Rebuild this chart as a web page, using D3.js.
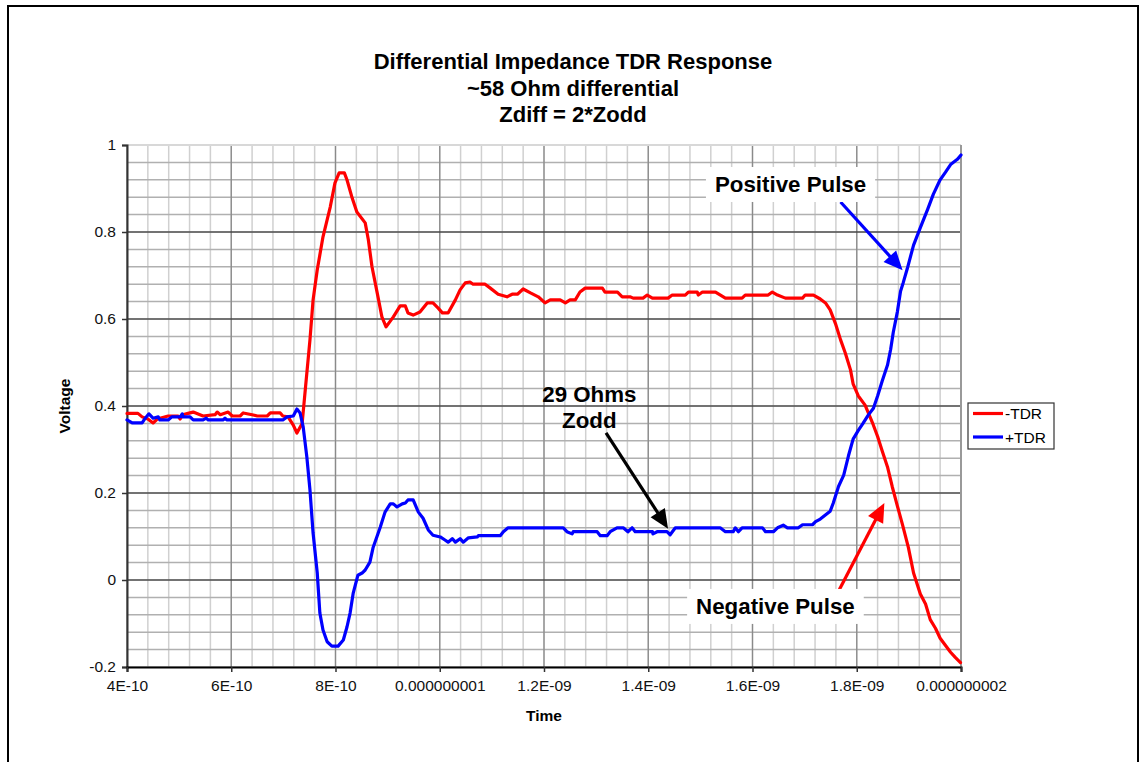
<!DOCTYPE html>
<html><head><meta charset="utf-8">
<script src="https://cdn.jsdelivr.net/npm/d3@7"></script>
<style>
body{margin:0;background:#fff}
text{font-family:Arial,"Liberation Sans",sans-serif}
</style></head>
<body><svg id="c" width="1139" height="762"></svg>
<script>
// ---------- DATA ----------
const titleLines = ["Differential Impedance TDR Response", "~58 Ohm differential", "Zdiff = 2*Zodd"];
const xTitle = "Time";
const yTitle = "Voltage";
const seriesNames = ["-TDR", "+TDR"];
const seriesColors = ["#ff0000", "#0000ff"];
// time in nanoseconds
const xTickValues = [0.4, 0.6, 0.8, 1.0, 1.2, 1.4, 1.6, 1.8, 2.0];
const xTickLabels = ["4E-10", "6E-10", "8E-10", "0.000000001", "1.2E-09", "1.4E-09", "1.6E-09", "1.8E-09", "0.000000002"];
const yTickValues = [-0.2, 0, 0.2, 0.4, 0.6, 0.8, 1];
const yTickLabels = ["-0.2", "0", "0.2", "0.4", "0.6", "0.8", "1"];

const timeRed = [0.400,0.421,0.429,0.440,0.450,0.458,0.463,0.479,0.498,0.502,0.507,0.517,0.527,0.546,0.569,0.573,0.579,0.594,0.602,0.617,0.623,0.640,0.650,0.669,0.675,0.694,0.699,0.709,0.719,0.726,0.736,0.742,0.751,0.757,0.765,0.776,0.790,0.799,0.807,0.817,0.822,0.832,0.841,0.857,0.863,0.870,0.880,0.889,0.897,0.911,0.924,0.934,0.939,0.949,0.962,0.976,0.987,0.997,1.005,1.016,1.030,1.039,1.049,1.058,1.064,1.087,1.097,1.112,1.129,1.139,1.149,1.160,1.174,1.189,1.202,1.212,1.231,1.241,1.250,1.260,1.269,1.279,1.312,1.317,1.341,1.350,1.365,1.371,1.390,1.398,1.408,1.438,1.446,1.471,1.477,1.494,1.496,1.504,1.529,1.548,1.580,1.586,1.630,1.638,1.648,1.663,1.696,1.701,1.717,1.730,1.740,1.749,1.759,1.769,1.778,1.788,1.793,1.803,1.816,1.830,1.840,1.849,1.859,1.868,1.878,1.888,1.899,1.909,1.922,1.932,1.941,1.951,1.960,1.970,1.980,1.989,1.999];
const voltRed = [0.383,0.383,0.375,0.370,0.361,0.370,0.372,0.377,0.377,0.370,0.380,0.383,0.386,0.377,0.380,0.386,0.380,0.386,0.377,0.377,0.384,0.380,0.377,0.377,0.384,0.384,0.377,0.375,0.356,0.338,0.360,0.437,0.552,0.644,0.713,0.789,0.858,0.913,0.936,0.936,0.920,0.878,0.846,0.821,0.782,0.720,0.660,0.605,0.582,0.605,0.630,0.630,0.614,0.609,0.616,0.637,0.637,0.625,0.614,0.614,0.644,0.667,0.683,0.685,0.680,0.680,0.671,0.657,0.651,0.657,0.657,0.669,0.660,0.651,0.637,0.644,0.644,0.637,0.644,0.644,0.662,0.671,0.671,0.662,0.662,0.651,0.651,0.648,0.648,0.655,0.648,0.648,0.655,0.655,0.662,0.662,0.655,0.662,0.662,0.648,0.648,0.655,0.655,0.662,0.655,0.648,0.648,0.655,0.655,0.646,0.637,0.621,0.590,0.552,0.522,0.483,0.451,0.423,0.402,0.362,0.330,0.296,0.260,0.215,0.170,0.126,0.075,0.016,-0.032,-0.055,-0.091,-0.111,-0.134,-0.150,-0.166,-0.178,-0.190];

const timeBlue = [0.400,0.410,0.429,0.435,0.442,0.450,0.460,0.463,0.479,0.486,0.502,0.506,0.507,0.521,0.527,0.546,0.552,0.556,0.584,0.588,0.592,0.699,0.707,0.719,0.726,0.732,0.738,0.745,0.751,0.757,0.765,0.770,0.776,0.784,0.793,0.805,0.815,0.822,0.828,0.834,0.843,0.851,0.857,0.866,0.872,0.886,0.895,0.905,0.911,0.918,0.928,0.934,0.939,0.949,0.959,0.968,0.978,0.987,1.001,1.010,1.016,1.024,1.030,1.039,1.045,1.055,1.072,1.074,1.116,1.122,1.131,1.237,1.244,1.254,1.256,1.302,1.308,1.321,1.327,1.340,1.352,1.361,1.369,1.375,1.408,1.409,1.417,1.436,1.442,1.452,1.538,1.548,1.563,1.567,1.573,1.580,1.619,1.625,1.640,1.648,1.659,1.667,1.688,1.696,1.715,1.721,1.730,1.749,1.755,1.765,1.775,1.784,1.793,1.803,1.812,1.822,1.832,1.840,1.849,1.859,1.865,1.870,1.878,1.884,1.889,1.897,1.909,1.922,1.936,1.947,1.960,1.970,1.980,1.993,2.000];
const voltBlue = [0.368,0.361,0.361,0.372,0.382,0.372,0.375,0.368,0.368,0.375,0.375,0.382,0.375,0.375,0.368,0.368,0.372,0.368,0.368,0.372,0.368,0.368,0.375,0.377,0.393,0.384,0.352,0.283,0.207,0.108,0.016,-0.076,-0.115,-0.142,-0.152,-0.152,-0.138,-0.108,-0.076,-0.030,0.011,0.016,0.023,0.041,0.074,0.122,0.156,0.175,0.175,0.168,0.175,0.177,0.184,0.184,0.156,0.142,0.115,0.103,0.099,0.092,0.087,0.095,0.087,0.095,0.087,0.097,0.099,0.102,0.102,0.111,0.120,0.120,0.111,0.106,0.111,0.111,0.102,0.102,0.111,0.120,0.120,0.111,0.120,0.111,0.111,0.106,0.111,0.111,0.104,0.120,0.120,0.111,0.111,0.120,0.111,0.120,0.120,0.111,0.111,0.120,0.126,0.120,0.120,0.127,0.127,0.134,0.140,0.158,0.177,0.215,0.241,0.285,0.324,0.344,0.360,0.379,0.395,0.423,0.458,0.494,0.530,0.569,0.617,0.664,0.683,0.716,0.770,0.810,0.852,0.887,0.920,0.937,0.955,0.967,0.977];

// annotations (data coordinates: ns, volts)
const noteTexts = [["29 Ohms", "Zodd"], ["Positive Pulse"], ["Negative Pulse"]];
const noteAnchors = [[1.287, 0.409], [1.673, 0.892], [1.644, -0.078]];
const noteBoxed = [false, true, true];
const arrowFrom = [[1.319, 0.338], [1.769, 0.869], [1.765, -0.026]];
const arrowTo = [[1.438, 0.118], [1.888, 0.712], [1.853, 0.177]];
const arrowColors = ["#000000", "#0000ff", "#ff0000"];

// ---------- CHART ----------
const svg = d3.select("#c");
const x = d3.scaleLinear().domain([0.4, 2.0]).range([127, 961]);
const y = d3.scaleLinear().domain([-0.2, 1]).range([667, 145]);

// outer chart border
svg.append("rect").attr("x", 8).attr("y", 6).attr("width", 1130).attr("height", 800)
  .attr("fill", "#fff").attr("stroke", "#000").attr("stroke-width", 2);

// titles
titleLines.forEach((t, i) => {
  svg.append("text").attr("x", 573).attr("y", 69 + i * 26.5).attr("text-anchor", "middle")
    .attr("font-size", 22).attr("font-weight", "bold").attr("fill", "#000").text(t);
});

const g = svg.append("g");
// minor grid
const minorX = d3.range(0, 41).map(i => 0.4 + i * 0.04);
const minorY = d3.range(0, 31).map(i => -0.2 + i * 0.04);
g.selectAll(".mx").data(minorX).join("line")
  .attr("x1", d => x(d)).attr("x2", d => x(d)).attr("y1", y(1)).attr("y2", y(-0.2))
  .attr("stroke", "#d0d0d0").attr("stroke-width", 1.5);
g.selectAll(".my").data(minorY).join("line")
  .attr("x1", x(0.4)).attr("x2", x(2.0)).attr("y1", d => y(d)).attr("y2", d => y(d))
  .attr("stroke", "#b0b0b0").attr("stroke-width", 1.5);
// major grid
g.selectAll(".Mx").data(xTickValues).join("line")
  .attr("x1", d => x(d)).attr("x2", d => x(d)).attr("y1", y(1)).attr("y2", y(-0.2))
  .attr("stroke", "#8a8a8a").attr("stroke-width", 1.3);
g.selectAll(".My").data(yTickValues.slice(1, -1)).join("line")
  .attr("x1", x(0.4)).attr("x2", x(2.0)).attr("y1", d => y(d)).attr("y2", d => y(d))
  .attr("stroke", "#222").attr("stroke-width", 1.2);
g.append("line").attr("x1", x(0.4)).attr("x2", x(2.0)).attr("y1", y(1)).attr("y2", y(1))
  .attr("stroke", "#d8d8d8").attr("stroke-width", 2);
g.append("line").attr("x1", x(2.0)).attr("x2", x(2.0)).attr("y1", y(1)).attr("y2", y(-0.2))
  .attr("stroke", "#999").attr("stroke-width", 2);

// axes
const yAxis = d3.axisLeft(y).tickValues(yTickValues).tickFormat((d, i) => yTickLabels[i]).tickSize(5).tickPadding(6);
const xAxis = d3.axisBottom(x).tickValues(xTickValues).tickFormat((d, i) => xTickLabels[i]).tickSize(5).tickPadding(8);
const ya = svg.append("g").attr("transform", `translate(${x(0.4)},0)`).call(yAxis);
const xa = svg.append("g").attr("transform", `translate(0,${y(-0.2)})`).call(xAxis);
[ya, xa].forEach(a => {
  a.select(".domain").attr("stroke", "#333").attr("stroke-width", 2);
  a.selectAll(".tick line").attr("stroke", "#333").attr("stroke-width", 1.5);
  a.selectAll(".tick text").attr("font-size", 15.5).attr("fill", "#111")
    .attr("font-family", "Arial, 'Liberation Sans', sans-serif");
});
xa.select(".domain").attr("stroke", "#000");

// axis titles
svg.append("text").attr("x", x(1.2)).attr("y", 721).attr("text-anchor", "middle")
  .attr("font-size", 15.5).attr("font-weight", "bold").text(xTitle);
svg.append("text").attr("transform", `translate(70,${y(0.4)}) rotate(-90)`).attr("text-anchor", "middle")
  .attr("font-size", 15.5).attr("font-weight", "bold").text(yTitle);

// series lines
const line = d3.line().x(d => x(d[0])).y(d => y(d[1]));
const seriesData = [d3.zip(timeRed, voltRed), d3.zip(timeBlue, voltBlue)];
seriesData.forEach((s, i) => {
  svg.append("path").datum(s).attr("d", line).attr("fill", "none")
    .attr("stroke", seriesColors[i]).attr("stroke-width", 3.2)
    .attr("stroke-linejoin", "round").attr("stroke-linecap", "round");
});

// arrows
function drawArrow(from, to, color) {
  const x1 = x(from[0]), y1 = y(from[1]), x2 = x(to[0]), y2 = y(to[1]);
  const dx = x2 - x1, dy = y2 - y1, L = Math.hypot(dx, dy);
  const ux = dx / L, uy = dy / L, hl = 19, hw = 8.5;
  const bx = x2 - ux * hl, by = y2 - uy * hl;
  svg.append("line").attr("x1", x1).attr("y1", y1).attr("x2", bx + ux * 2).attr("y2", by + uy * 2)
    .attr("stroke", color).attr("stroke-width", 3.2);
  svg.append("path").attr("d", `M${x2},${y2}L${bx - uy * hw},${by + ux * hw}L${bx + uy * hw},${by - ux * hw}Z`)
    .attr("fill", color);
}
arrowFrom.forEach((f, i) => drawArrow(f, arrowTo[i], arrowColors[i]));

// annotation texts
noteTexts.forEach((lines, i) => {
  const gx = svg.append("g");
  const cx = x(noteAnchors[i][0]), cy = y(noteAnchors[i][1]);
  const bgRect = gx.append("rect").attr("fill", "#fff");
  const txts = lines.map((t, j) => gx.append("text").attr("x", cx).attr("y", cy + j * 26)
    .attr("text-anchor", "middle").attr("font-size", 22.3).attr("font-weight", "bold").attr("fill", "#000").text(t));
  if (noteBoxed[i]) {
    const bb = txts[0].node().getBBox();
    bgRect.attr("x", bb.x - 9).attr("y", bb.y - 5).attr("width", bb.width + 18).attr("height", bb.height + 10);
  } else bgRect.remove();
});

// legend
const lg = svg.append("g").attr("transform", "translate(968,403)");
lg.append("rect").attr("width", 86).attr("height", 46).attr("fill", "#fff").attr("stroke", "#333").attr("stroke-width", 1.2);
seriesNames.forEach((n, i) => {
  lg.append("line").attr("x1", 5).attr("x2", 35).attr("y1", 10.5 + i * 23.5).attr("y2", 10.5 + i * 23.5)
    .attr("stroke", seriesColors[i]).attr("stroke-width", 3.2);
  lg.append("text").attr("x", 37).attr("y", 16 + i * 23.5).attr("font-size", 15.5).attr("fill", "#000").text(n);
});
</script></body></html>
